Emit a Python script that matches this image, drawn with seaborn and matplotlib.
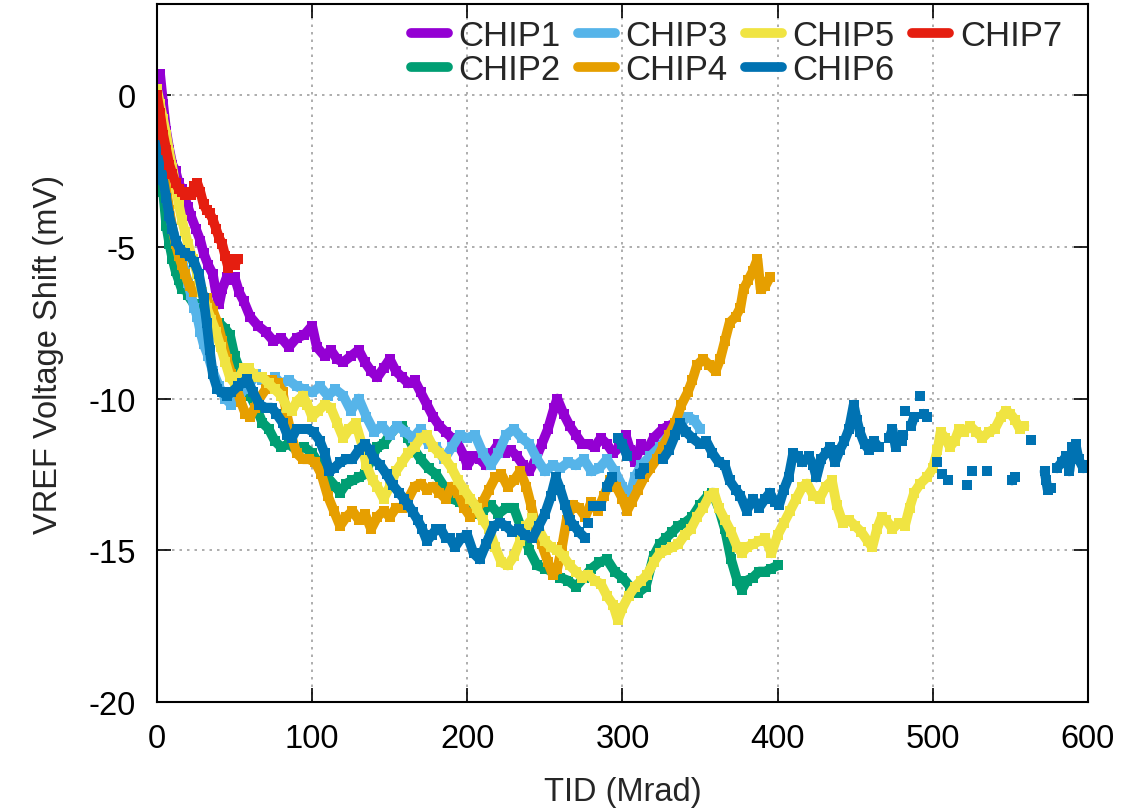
import numpy as np
import pandas as pd
import matplotlib
matplotlib.use("Agg")
import matplotlib.pyplot as plt
from matplotlib.lines import Line2D
import seaborn as sns

nan = np.nan

# TID (Mrad) and VREF shift (mV), one pair of lists per chip
chip1_tid = [0, 2, 4, 6, 8, 10, 12, 14, 16, 18, 20, 22, 25, 28, 30, 33, 36, 38, 40, 42, 45, 48, 50, 53, 56,
             60, 65, 70, 75, 80, 85, 90, 95, 100, 103, 108, 112, 116, 120, 125, 130, 134, 138, 142, 146, 150,
             154, 158, 162, 166, 170, 174, 178, 182, 186, 190, 194, 198, 200, 204, 208, 212, 216, 220, 224,
             228, 232, 236, 240, 244, 248, 252, 256, 258, 262, 266, 270, 274, 278, 282, 286, 290, 294, 298,
             302, 305, 308, 312, 316, 320, 326, 330, 334]
chip1_shift = [0.5, 0.7, -0.3, -1.2, -1.8, -2.3, -2.5, -2.9, -3.1, -3.4, -3.7, -4.0, -4.4, -4.8, -5.2, -5.6,
               -5.9, -6.5, -6.9, -6.4, -6.0, -6.1, -6.0, -6.5, -6.8, -7.3, -7.6, -7.8, -8.1, -8.0, -8.3, -8.0,
               -7.9, -7.6, -8.3, -8.6, -8.4, -8.7, -8.8, -8.6, -8.4, -8.8, -9.1, -9.3, -9.0, -8.7, -9.1, -9.3,
               -9.5, -9.4, -9.8, -10.2, -10.6, -10.9, -11.1, -11.3, -11.5, -11.9, -12.2, -11.9, -12.0, -12.2,
               -11.8, -11.5, -11.8, -11.7, -11.9, -12.2, -12.4, -12.0, -11.5, -11.0, -10.3, -10.0, -10.5,
               -10.9, -11.2, -11.5, -11.5, -11.6, -11.3, -11.5, -11.8, -11.6, -11.2, -11.7, -12.1, -11.5,
               -11.7, -11.3, -11.0, -10.9, -10.8]

chip2_tid = [0, 2, 4, 6, 8, 10, 12, 14, 16, 18, 20, 24, 28, 32, 36, 40, 44, 47, 50, 53, 56, 60, 64, 68, 72,
             76, 80, 85, 90, 95, 100, 105, 110, 115, 118, 122, 126, 130, 134, 138, 142, 146, 150, 155, 158,
             162, 166, 170, 175, 180, 185, 190, 195, 200, 205, 210, 215, 220, 225, 230, 235, 240, 245, 250,
             255, 260, 265, 270, 275, 280, 285, 290, 295, 300, 305, 310, 315, 320, 324, 328, 332, 336, 340,
             345, 350, 355, 358, 362, 366, 370, 374, 377, 380, 384, 388, 392, 396, 400]
chip2_shift = [0.0, -1.3, -3.2, -4.3, -4.9, -5.4, -5.8, -6.1, -6.4, -6.3, -6.6, -6.9, -7.2, -7.3, -7.6, -7.5,
               -7.7, -7.9, -8.6, -9.0, -9.5, -9.9, -10.3, -10.8, -11.0, -11.4, -11.6, -11.5, -11.7, -11.6,
               -11.8, -12.2, -12.6, -12.9, -13.1, -12.8, -12.7, -12.6, -12.5, -12.0, -11.6, -11.5, -11.2,
               -10.9, -10.9, -11.3, -11.7, -12.0, -12.3, -12.5, -12.9, -13.3, -13.4, -13.6, -13.8, -13.7,
               -13.5, -13.8, -13.6, -13.6, -14.3, -15.0, -15.5, -15.6, -15.7, -15.9, -16.0, -16.2, -15.9,
               -15.6, -15.4, -15.3, -15.7, -15.9, -16.2, -16.4, -16.2, -15.2, -14.8, -14.6, -14.4, -14.2,
               -14.1, -13.9, -13.5, -13.2, -13.1, -13.6, -14.3, -15.3, -16.0, -16.3, -16.0, -15.9, -15.7,
               -15.7, -15.6, -15.5]

chip3_tid = [0, 2, 4, 6, 8, 10, 12, 14, 16, 18, 20, 22, 24, 26, 28, 30, 33, 36, 40, 44, 48, 52, 56, 60, 64,
             68, 72, 76, 80, 85, 90, 95, 100, 105, 110, 115, 120, 125, 130, 135, 140, 145, 150, 155, 160, 165,
             170, 175, 180, 185, 190, 195, 200, 205, 210, 215, 220, 225, 230, 235, 240, 245, 250, 255, 260,
             265, 270, 275, 280, 285, 290, 295, 300, 304, 308, 312, 318, 324, 330, 336, 342, 346, 350]
chip3_shift = [-0.8, -1.8, -2.6, -3.3, -3.9, -4.4, -4.8, -5.1, -5.4, -5.8, -6.2, -6.6, -7.0, -7.3, -7.8, -8.2,
               -8.6, -9.1, -9.6, -10.0, -10.2, -10.0, -9.7, -9.5, -9.2, -9.4, -9.5, -9.3, -9.5, -9.4, -9.6,
               -9.7, -9.8, -9.6, -9.9, -9.7, -9.9, -10.4, -10.0, -10.6, -11.1, -10.9, -11.2, -10.9, -11.1,
               -11.3, -11.0, -11.5, -11.6, -12.0, -11.6, -11.2, -11.3, -11.2, -11.8, -12.2, -11.8, -11.2,
               -11.0, -11.3, -11.5, -12.0, -12.4, -12.2, -12.3, -12.1, -12.2, -12.0, -12.4, -12.3, -12.0,
               -12.4, -12.9, -13.3, -12.6, -12.2, -11.9, -11.6, -11.2, -10.9, -10.6, -10.7, -11.0]

chip4_tid = [0, 2, 4, 6, 8, 10, 12, 14, 16, 18, 21, 24, 28, 32, 36, 39, 42, 45, 48, 51, 54, 57, 60, 63, 66,
             70, 74, 78, 81, 84, 87, 90, 94, 98, 102, 106, 110, 114, 118, 122, 126, 130, 134, 138, 142, 146,
             150, 154, 158, 162, 166, 170, 174, 178, 182, 186, 190, 194, 198, 202, 206, 210, 214, 218, 222,
             226, 230, 234, 238, 241, 244, 248, 252, 255, 258, 261, 264, 268, 272, 276, 280, 284, 288, 292,
             296, 300, 303, 306, 310, 314, 318, 322, 326, 330, 334, 338, 342, 345, 348, 352, 356, 360, 363,
             366, 369, 373, 376, 378, 381, 384, 387, 389, 392, 395]
chip4_shift = [0.0, -1.2, -2.3, -3.1, -3.8, -4.4, -4.9, -5.3, -5.6, -5.9, -6.3, -6.5, -6.5, -6.7, -7.1, -7.5,
               -8.1, -8.7, -9.2, -9.6, -10.1, -10.5, -10.6, -10.3, -10.0, -9.7, -9.4, -9.5, -9.8, -10.6, -11.3,
               -11.8, -12.0, -12.0, -12.1, -12.5, -13.2, -13.7, -14.2, -13.9, -13.7, -14.0, -13.8, -14.3,
               -13.9, -13.7, -13.9, -13.6, -13.6, -13.3, -12.9, -12.8, -13.0, -12.9, -13.1, -13.3, -12.9,
               -13.1, -13.6, -13.9, -13.6, -13.4, -13.0, -12.6, -12.5, -12.9, -12.7, -12.4, -12.9, -13.5,
               -14.2, -14.8, -15.4, -15.8, -15.6, -14.9, -14.0, -13.5, -13.6, -13.9, -13.4, -13.7, -13.2,
               -12.7, -12.9, -13.3, -13.7, -13.4, -13.0, -12.6, -12.3, -12.0, -11.6, -11.2, -10.8, -10.2,
               -9.8, -9.4, -8.9, -8.7, -8.9, -9.1, -8.7, -8.1, -7.5, -7.3, -7.0, -6.4, -6.1, -5.8, -5.4, -6.4,
               -6.3, -6.0]

chip5_tid = [0, 2, 4, 6, 8, 10, 12, 14, 16, 18, 20, 23, 26, 29, 32, 35, 38, 41, 44, 47, 50, 53, 56, 59, 62,
             65, 68, 72, 76, 80, 84, 87, 90, 94, 97, 100, 104, 108, 112, 116, 120, 124, 128, 132, 135, 139,
             142, 146, 150, 154, 158, 162, 166, 170, 174, 178, 182, 186, 190, 194, 198, 202, 206, 210, 214,
             218, 222, 226, 230, 234, 238, 242, 246, 250, 254, 258, 262, 266, 270, 274, 278, 282, 286, 290,
             294, 297, 300, 304, 308, 312, 316, 320, 324, 328, 332, 336, 340, 344, 348, 352, 356, 359, 362,
             366, 370, 374, 377, 380, 384, 388, 392, 396, 400, 404, 408, 412, 416, 419, 423, 427, 431, 435,
             438, 442, 446, 450, 454, 458, 461, 464, 467, 470, 474, 478, 482, 485, 488, 492, 496, 500, 503,
             505, 508, 511, 514, 517, 520, 524, 528, 532, 536, 540, 544, 547, 550, 553, 556, 559]
chip5_shift = [0.2, -0.3, -0.8, -1.3, -1.9, -2.4, -3.0, -3.6, -4.1, -4.5, -4.9, -5.4, -5.9, -6.5, -7.0, -7.4,
               -7.8, -8.3, -8.8, -9.3, -9.5, -9.3, -9.0, -9.0, -9.2, -9.3, -9.3, -9.5, -9.7, -9.9, -10.3,
               -10.4, -10.1, -9.9, -10.2, -10.6, -10.4, -10.2, -10.3, -10.8, -11.3, -11.0, -10.8, -11.5,
               -12.2, -12.7, -12.9, -13.3, -12.9, -12.4, -12.1, -11.8, -11.6, -11.3, -11.2, -11.6, -11.8,
               -12.0, -12.3, -12.7, -13.0, -13.3, -13.6, -14.0, -14.3, -14.9, -15.4, -15.5, -15.2, -14.7,
               -14.2, -13.95, -14.3, -14.7, -14.9, -15.0, -15.2, -15.5, -15.7, -15.9, -15.8, -16.0, -16.1,
               -16.5, -16.8, -17.3, -16.9, -16.5, -16.2, -16.0, -15.8, -15.4, -15.1, -15.0, -14.9, -14.8,
               -14.5, -14.3, -13.9, -13.6, -13.2, -13.1, -13.6, -14.0, -14.4, -14.9, -15.1, -14.9, -14.8,
               -14.7, -14.6, -15.1, -14.5, -14.1, -13.7, -13.3, -12.9, -12.8, -13.2, -13.3, -12.9, -12.7,
               -13.5, -14.1, -14.0, -14.2, -14.4, -14.7, -14.9, -14.3, -13.9, -14.0, -14.3, -14.1, -14.2,
               -13.6, -13.1, -12.8, -12.6, -12.3, -11.7, -11.1, -11.3, -11.6, -11.4, -11.0, -11.1, -10.9,
               -11.1, -11.3, -11.1, -11.0, -10.6, -10.4, -10.5, -10.7, -11.0, -10.9]

# CHIP6 has missing readings above ~275 Mrad: nan marks a break in the trace
chip6_tid = [0, 2, 4, 6, 8, 10, 12, 15, 18, 21, 24, 27, 30, 32, 34, 36, 39, 42, 45, 48, 52, 55, 58, 62, 66,
             70, 74, 77, 81, 84, 87, 90, 94, 97, 101, 105, 108, 111, 114, 118, 122, 126, 130, 134, 137, 140,
             144, 148, 152, 156, 159, 162, 165, 168, 171, 174, 177, 180, 183, 186, 189, 192, 196, 200, 204,
             208, 212, 217, 221, 225, 229, 233, 237, 242, 246, 250, 254, 257, 260, 263, 266, 269, 272, 276,
             277, 278, 279, 281, 286, 287, 290, 293, 294, 297, 300, 303, 304, 311, 314, 315, 326, 330, 334,
             337, 341, 345, 350, 354, 358, 362, 366, 369, 373, 376, 380, 384, 388, 392, 395, 398, 401, 404,
             407, 410, 413, 416, 420, 423, 425, 428, 431, 434, 437, 440, 443, 446, 449, 451, 453, 456, 459,
             462, 465, 466, 472, 474, 476, 477, 480, 481, 481.5, 482, 482.5, 486, 488, 489, 492, 493, 494,
             496, 497, 503, 504, 506, 507, 510, 511, 522, 523, 525, 526, 535, 536, 551, 553, 554, 563, 564,
             572, 573, 574, 575, 576, 577, 578, 580, 583, 586, 588, 590, 592, 594, 597, 600]
chip6_shift = [-0.5, -1.5, -2.8, -3.4, -4.0, -4.4, -4.8, -5.1, -5.2, -5.3, -5.5, -5.9, -6.7, -7.5, -8.4,
               -9.2, -9.7, -9.8, -9.9, -9.8, -9.6, -9.5, -9.35, -9.8, -10.2, -10.3, -10.3, -10.5, -10.8,
               -11.2, -11.3, -11.0, -11.0, -11.0, -11.1, -11.4, -11.8, -12.4, -12.3, -12.1, -12.0, -12.0,
               -11.7, -11.5, -11.7, -12.0, -12.2, -12.5, -12.85, -13.1, -13.3, -13.5, -13.75, -14.0, -14.3,
               -14.7, -14.5, -14.3, -14.3, -14.6, -14.6, -14.9, -14.6, -14.5, -15.1, -15.3, -14.8, -14.2,
               -14.1, -14.2, -14.4, -14.3, -14.5, -14.6, -14.2, -13.8, -13.2, -12.6, -13.0, -13.5, -14.0,
               -14.2, -14.4, -14.6, nan, -14.1, nan, -13.55, -13.55, nan, -12.9, -12.6, nan, -11.3, -11.5,
               -11.9, nan, -12.5, -12.3, nan, -12.0, -11.7, -11.2, -10.8, -11.1, -11.3, -11.5, -11.4, -11.8,
               -12.1, -12.2, -12.7, -13.0, -13.2, -13.7, -13.3, -13.6, -13.3, -13.1, -13.4, -13.5, -13.0,
               -12.6, -11.8, -11.9, -12.1, -11.9, -12.2, -12.6, -12.0, -11.8, -11.6, -12.1, -11.7, -11.4,
               -11.0, -10.2, -10.7, -11.1, -11.5, -11.7, -11.4, -11.6, nan, -11.3, -11.0, -11.6, nan, -11.4,
               -11.2, nan, -10.4, nan, -10.9, -10.6, nan, -9.9, nan, -10.5, -10.6, nan, -12.1, nan, -12.5,
               nan, -12.7, nan, -12.85, nan, -12.4, nan, -12.4, nan, -12.7, -12.6, nan, -11.35, nan, -12.4,
               -12.7, -13.0, nan, -12.95, nan, nan, -12.3, -12.1, -11.9, -12.4, -11.6, -11.5, -12.0, -12.3,
               -12.2]

chip7_tid = [0, 2, 4, 6, 8, 10, 12, 14, 16, 18, 20, 22, 24, 26, 28, 30, 32, 34, 36, 38, 40, 42, 44, 46, 48,
             50, 52]
chip7_shift = [0.0, -0.6, -1.3, -1.8, -2.3, -2.6, -2.9, -3.1, -3.2, -3.3, -3.2, -3.3, -3.0, -2.9, -3.2, -3.6,
               -3.8, -3.9, -4.1, -4.4, -4.7, -4.9, -5.3, -5.7, -5.4, -5.6, -5.4]

chips = ["CHIP1", "CHIP2", "CHIP3", "CHIP4", "CHIP5", "CHIP6", "CHIP7"]
tids = [chip1_tid, chip2_tid, chip3_tid, chip4_tid, chip5_tid, chip6_tid, chip7_tid]
shifts = [chip1_shift, chip2_shift, chip3_shift, chip4_shift, chip5_shift, chip6_shift, chip7_shift]
colors = ["#9400D3", "#009E73", "#56B4E9", "#E69F00", "#F0E442", "#0072B2", "#E51E10"]

xticks = [0, 100, 200, 300, 400, 500, 600]
yticks = [-20, -15, -10, -5, 0]

sns.set_theme(style="ticks")
plt.rcParams["font.family"] = ["Liberation Sans", "DejaVu Sans"]
plt.rcParams["axes.unicode_minus"] = False

fig = plt.figure(figsize=(11.45, 8.12), dpi=100)
ax = fig.add_axes([0.1371, 0.1342, 0.8131, 0.8596])

for name, tid, shift, col in zip(chips, tids, shifts, colors):
    df = pd.DataFrame({"tid": tid, "shift": shift})
    df["seg"] = df["shift"].isna().cumsum()
    df = df.dropna()
    sns.lineplot(data=df, x="tid", y="shift", units="seg", estimator=None, sort=False, ax=ax,
                 color=col, linewidth=7, marker="s", markersize=6.5, markeredgewidth=0, legend=False)

ax.set_xlim(0, 600)
ax.set_ylim(-20, 3)
ax.set_xticks(xticks)
ax.set_yticks(yticks)
ax.grid(True, linestyle=(0, (1.5, 3)), color="#a0a0a0", linewidth=1.2)
ax.tick_params(direction="in", length=10, width=1.2, top=True, right=True, labelsize=23.5, pad=15,
               colors="black")
for sp in ax.spines.values():
    sp.set_visible(True)
    sp.set_color("black")
    sp.set_linewidth(1.5)

ax.set_xlabel("TID (Mrad)", fontsize=23.5, labelpad=16)
ax.set_ylabel("VREF Voltage Shift (mV)", fontsize=23.5, labelpad=18)

handles = [Line2D([0], [0], color=c, linewidth=7) for c in colors]
ax.legend(handles, chips, ncol=4, loc="upper right", frameon=False, fontsize=25, handlelength=1.07,
          handletextpad=0.3, columnspacing=0.5, labelspacing=0.03, borderpad=0, borderaxespad=0,
          bbox_to_anchor=(0.972, 0.979))

fig.savefig("out.png", dpi=100)
